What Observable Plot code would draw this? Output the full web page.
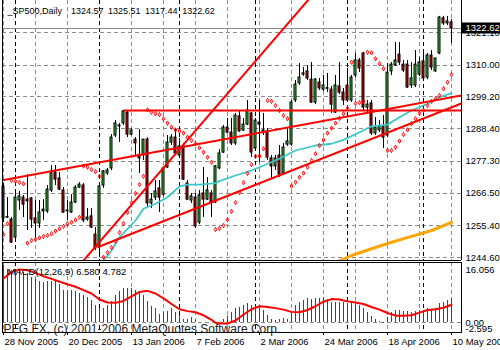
<!DOCTYPE html>
<html><head><meta charset="utf-8">
<script src="https://cdn.jsdelivr.net/npm/d3@7"></script>
<script src="https://cdn.jsdelivr.net/npm/@observablehq/plot@0.6"></script>
<style>
body{margin:0;background:#fff;}
#chart{position:relative;width:500px;height:350px;overflow:hidden;background:#fff;}
#chart svg{position:absolute;left:0;overflow:visible;}
</style></head><body><div id="chart"></div>
<script>
// ---------- data ----------
const symbolLabel = "_SP500,Daily";
const lastOHLC = [1324.57, 1325.51, 1317.44, 1322.62];
const opens = [1268.8,1258.4,1257.5,1251.4,1264.0,1265.0,1264.3,1264.7,1257.9,1256.2,
1260.3,1260.3,1267.4,1273.5,1271.5,1267.4,1260.3,1259.9,1263.3,1268.4,
1269.1,1257.5,1258.6,1252.4,1248.0,1269.1,1273.2,1274.9,1286.1,1289.2,
1290.2,1293.9,1286.4,1284.7,1279.3,1279.3,1284.7,1263.0,1265.0,1268.1,
1266.0,1275.2,1283.7,1285.4,1279.3,1282.4,1269.8,1264.0,1265.0,1256.5,
1266.4,1264.3,1266.4,1263.3,1274.9,1280.3,1288.8,1287.1,1283.4,1292.6,
1287.8,1289.8,1293.6,1281.7,1290.5,1287.5,1287.5,1278.3,1275.6,1279.3,
1273.2,1283.0,1283.0,1298.0,1303.8,1306.8,1307.9,1305.1,1297.3,1304.1,
1301.7,1302.2,1301.7,1293.9,1302.8,1300.7,1303.1,1298.0,1306.5,1311.6,
1314.0,1295.6,1297.0,1286.8,1287.8,1289.2,1286.1,1307.9,1309.9,1313.6,
1310.2,1310.2,1303.1,1303.1,1306.8,1311.3,1305.8,1313.3,1307.9,1314.0,
1325.9,1324.2,1324.57];
const highs = [1269.8,1265.0,1258.2,1267.1,1267.1,1265.7,1272.8,1265.0,1264.0,1264.0,
1264.3,1269.1,1275.9,1275.9,1273.5,1268.4,1264.0,1266.0,1269.1,1270.1,
1269.8,1261.3,1261.3,1254.8,1269.1,1274.2,1274.9,1286.4,1291.2,1290.2,
1294.6,1294.6,1288.5,1285.4,1288.1,1284.7,1285.4,1266.4,1270.8,1270.8,
1275.2,1286.1,1286.4,1288.5,1285.1,1283.4,1270.8,1266.4,1266.4,1267.4,
1275.2,1271.8,1267.4,1275.9,1281.3,1289.5,1291.9,1291.9,1293.6,1294.6,
1291.9,1298.0,1293.9,1291.9,1298.0,1293.6,1288.5,1279.3,1279.3,1282.7,
1283.4,1288.8,1298.0,1304.8,1310.6,1309.2,1309.9,1310.9,1305.5,1305.5,
1306.5,1307.2,1302.8,1306.5,1310.9,1302.1,1308.9,1306.5,1314.0,1312.3,
1314.3,1298.0,1298.0,1292.2,1291.2,1292.9,1310.6,1310.9,1317.7,1317.7,
1311.6,1311.6,1310.9,1315.0,1312.6,1315.0,1314.0,1315.0,1311.6,1326.6,
1326.6,1326.6,1325.51];
const lows = [1256.5,1257.9,1249.4,1251.1,1260.6,1258.2,1253.8,1254.5,1251.1,1254.5,
1257.2,1259.6,1266.7,1269.1,1267.4,1259.6,1257.2,1259.6,1263.0,1268.1,
1256.5,1256.9,1254.5,1247.0,1244.6,1268.1,1272.5,1274.2,1285.4,1283.7,
1289.5,1285.4,1286.1,1279.3,1273.2,1277.6,1261.6,1261.3,1264.0,1259.9,
1265.4,1274.9,1282.7,1279.3,1278.6,1270.8,1264.0,1263.0,1254.5,1255.8,
1258.2,1264.0,1258.2,1263.0,1274.5,1280.0,1286.8,1282.7,1282.7,1287.1,
1287.5,1289.5,1278.6,1281.0,1276.9,1286.1,1277.6,1271.5,1274.2,1271.8,
1272.5,1282.4,1282.4,1297.3,1303.1,1306.2,1304.8,1297.0,1296.6,1301.4,
1301.1,1300.7,1293.6,1293.6,1300.0,1296.3,1297.3,1297.3,1305.8,1307.5,
1294.6,1293.9,1286.1,1286.1,1287.1,1281.7,1285.4,1306.5,1309.6,1309.9,
1307.5,1302.1,1302.1,1302.4,1306.2,1304.8,1305.1,1308.2,1307.5,1313.6,
1323.5,1323.5,1317.44];
const closes = [1257.9,1258.2,1249.7,1265.0,1265.4,1262.6,1263.7,1257.5,1256.2,1259.9,
1260.9,1267.7,1273.2,1271.1,1267.7,1259.9,1260.6,1263.3,1268.4,1269.4,
1257.2,1258.2,1254.8,1247.7,1268.8,1273.9,1274.2,1285.4,1290.2,1289.5,
1294.3,1286.4,1287.8,1283.4,1278.3,1284.7,1263.0,1264.3,1267.1,1265.0,
1274.9,1283.7,1285.4,1280.0,1282.4,1271.1,1264.3,1265.4,1255.2,1265.7,
1264.3,1267.4,1263.3,1275.6,1280.0,1288.8,1287.1,1283.4,1292.9,1287.5,
1289.8,1294.6,1280.3,1291.2,1289.8,1287.8,1278.6,1275.6,1278.3,1272.8,
1282.0,1284.1,1297.3,1303.4,1305.8,1307.2,1305.5,1297.3,1305.1,1302.1,
1303.1,1302.0,1296.6,1303.1,1300.7,1298.0,1298.0,1305.8,1311.6,1308.9,
1295.6,1296.6,1286.8,1288.8,1289.2,1285.4,1307.5,1310.2,1311.6,1310.9,
1308.2,1302.4,1305.5,1310.2,1310.9,1305.5,1313.3,1309.2,1312.3,1326.2,
1324.2,1324.9,1322.62];
// Parabolic SAR, one value per bar
const sarValues = [1252.4,1256.1,1270.8,1270.5,1270.1,1269.7,1249.5,1250.4,1250.8,1251.3,
1251.8,1252.1,1252.7,1253.6,1254.4,1255.2,1256.1,1256.6,1257.4,1258.3,
1275.7,1275.3,1274.5,1273.8,1272.2,1244.7,1246.3,1248.0,1250.1,1253.1,
1256.2,1259.9,1263.3,1266.4,1269.4,1272.2,1294.8,1294.0,1293.5,1293.2,
1291.8,1290.3,1288.9,1288.0,1287.6,1286.9,1285.5,1284.4,1283.3,1281.9,
1280.4,1278.7,1277.0,1254.1,1254.5,1255.5,1257.5,1260.3,1263.3,1266.7,
1270.1,1273.2,1276.2,1279.0,1279.1,1281.6,1298.0,1297.7,1296.3,1294.6,
1292.9,1291.8,1268.9,1270.2,1271.9,1273.3,1275.3,1277.6,1279.9,1282.7,
1284.6,1286.9,1288.6,1290.3,1291.9,1293.5,1295.3,1311.0,1297.0,1297.3,
1297.7,1314.4,1314.2,1312.2,1310.5,1308.8,1281.0,1281.0,1282.1,1284.2,
1286.4,1288.0,1290.1,1291.8,1293.6,1294.6,1296.3,1297.7,1298.7,1299.7,
1302.0,1304.2,1306.8];
// moving averages (read at sample bars)
const fastMaIdx  = [24,25,27,29,33,35,38,41,44,46,49,53,54,58,62,65,69,73,78,82,85,89,92,96,99,102,106,109,112];
const fastMaVals = [1241.5,1243.6,1247.0,1251.5,1257.2,1261.2,1262.9,1265.1,1268.8,1269.4,1269.4,1269.9,1270.6,1272.5,1274.2,1275.9,1278.2,1281.0,1282.7,1283.3,1284.6,1287.2,1289.2,1289.8,1292.3,1294.6,1296.9,1299.1,1300.5];
const slowMaIdx  = [83,84,87,92,97,102,107,112];
const slowMaVals = [1243.0,1243.5,1245.3,1247.6,1249.8,1251.8,1253.8,1256.6];
// trend lines (bar index, price)
const trendX1 = [30, -0.25, 23.5, 19.5];
const trendY1 = [1294.6, 1270.9, 1248.1, 1242.8];
const trendX2 = [114.5, 114.5, 114.5, 76.5];
const trendY2 = [1294.6, 1299.7, 1297.0, 1332.7];
// axes
const priceTicks = [1321.10,1310.00,1299.20,1288.40,1277.30,1266.50,1255.40,1244.60];
const dateTickIdx = [0,16,32,48,64,80,96,112];
const dateTickLabels = ["28 Nov 2005","20 Dec 2005","13 Jan 2006","7 Feb 2006","2 Mar 2006","24 Mar 2006","18 Apr 2006","10 May 2006"];
const monthStartIdx = [3,24,44,63,86,105];
// MACD(12,26,9)
const macdLabel = "MACD(12,26,9)";
const macdLast = [6.580, 4.782];
const macdRange = [-2.595, 16.056];
const macdMain = [15.3,14.2,13.8,13.9,13.8,13.3,12.8,12.1,11.5,11.0,
10.8,11.0,11.0,11.2,10.1,8.7,8.5,8.5,8.3,7.8,
7.2,6.6,6.0,4.6,3.9,3.9,4.6,5.7,7.2,8.3,
9.2,9.2,9.0,8.7,8.3,7.2,5.7,4.2,3.7,2.3,
2.8,3.0,3.7,2.8,1.9,0.96,0.96,1.4,0.5,0.2,
0.05,0.2,0.2,0.05,0.2,1.0,1.7,2.79,3.70,4.16,
4.62,5.07,4.62,4.34,3.89,3.25,1.87,0.96,0.69,0.78,
1.14,0.96,2.79,4.62,5.53,5.99,6.45,6.26,6.45,6.45,
6.63,6.26,5.53,5.35,5.53,5.53,5.07,5.07,5.07,4.62,
3.70,2.79,1.69,0.96,0.23,-0.14,1.42,2.79,3.25,3.25,
2.97,2.97,2.79,2.97,3.25,3.25,3.70,3.52,3.70,5.07,
5.53,5.99,6.58];
const signalIdx  = [0,2,4,6,8,10,12,15,18,20,22,24,26,28,30,32,34,36,38,40,42,44,46,48,50,52,53,54,56,58,60,62,64,66,68,70,72,74,76,78,80,82,84,86,88,90,92,94,96,98,100,102,104,106,108,110,112];
const signalVals = [11.8,13.5,14.2,14.0,13.3,12.4,11.7,10.6,9.6,8.7,7.8,6.2,5.4,5.3,5.8,7.0,8.2,8.5,7.8,6.5,5.0,3.6,3.1,2.8,2.0,0.8,0.0,-0.2,-0.2,0.6,2.2,3.6,4.4,4.2,3.9,3.5,2.9,2.8,3.4,4.4,5.6,6.3,6.2,5.7,5.4,5.0,4.2,3.5,2.6,1.9,1.9,2.0,2.7,3.4,3.6,4.0,4.782];
const copyright = "PFG FX, (c) 2001-2006 MetaQuotes Software Corp.";

// ---------- tables ----------
const bars = opens.map((o, i) => ({i, o, h: highs[i], l: lows[i], c: closes[i]}));
const sar = sarValues.map((v, i) => ({i, v}));
const fastMA = fastMaIdx.map((i, k) => ({i, v: fastMaVals[k]}));
const slowMA = slowMaIdx.map((i, k) => ({i, v: slowMaVals[k]}));
const trends = trendX1.map((x1, k) => ({x1, y1: trendY1[k], x2: trendX2[k], y2: trendY2[k]}));
const macdRows = macdMain.map((v, i) => ({i, v}));
const signalRows = signalIdx.map((i, k) => ({i, v: signalVals[k]}));
const gridIdx = d3.range(0, opens.length, 8);
const dateTicks = dateTickIdx.map((i, k) => ({i, label: dateTickLabels[k]}));

const xDomain = [-0.25, 114.5];
const FONT = "'Liberation Sans', Arial, sans-serif";
const GRID = "#8c8c8c", DASH = "4,3";
const BULL = "#2ec82e", BEAR = "#dd0000";
const CRISP = "crispEdges";

const main = Plot.plot({
  width: 500, height: 261,
  marginLeft: 2, marginRight: 39, marginTop: 0, marginBottom: 1,
  x: {domain: xDomain, axis: null},
  y: {domain: [1243.6, 1332], axis: null},
  style: {fontFamily: FONT, fontSize: "9.5px", background: "transparent", color: "#000", overflow: "visible"},
  marks: [
    Plot.ruleY(priceTicks, {stroke: GRID, strokeDasharray: DASH, shapeRendering: CRISP}),
    Plot.ruleX(gridIdx, {stroke: GRID, strokeDasharray: DASH, shapeRendering: CRISP}),
    Plot.ruleX(monthStartIdx, {stroke: "#000", strokeDasharray: DASH, shapeRendering: CRISP}),
    Plot.ruleY([lastOHLC[3]], {stroke: "#8a8a8a", shapeRendering: CRISP}),
    Plot.ruleX(bars, {x: "i", y1: "l", y2: "h", stroke: "#000"}),
    Plot.rect(bars, {x1: d => d.i - 0.25, x2: d => d.i + 0.25, y1: "o", y2: "c",
      fill: d => d.c >= d.o ? BULL : BEAR, stroke: "#000"}),
    Plot.line(slowMA, {x: "i", y: "v", stroke: "#ffa500", strokeWidth: 3, clip: true}),
    Plot.line(fastMA, {x: "i", y: "v", stroke: "#3cc8c8", strokeWidth: 1.8, clip: true}),
    Plot.dot(sar, {x: "i", y: "v", symbol: "diamond", r: 1.3, stroke: "#ff0000", fill: "none", strokeWidth: 1}),
    Plot.link(trends, {x1: "x1", y1: "y1", x2: "x2", y2: "y2", stroke: "#ff0000", strokeWidth: 2, clip: true}),
    // frame: left, right, bottom
    Plot.ruleX(xDomain, {stroke: "#000", shapeRendering: CRISP}),
    Plot.ruleY([1243.6], {stroke: "#000", shapeRendering: CRISP}),
    // price labels
    Plot.text(priceTicks, {y: d => d, text: d => d.toFixed(2), frameAnchor: "right", textAnchor: "start", dx: 4, fontSize: 9.5}),
    Plot.ruleY([lastOHLC[3]], {stroke: "#000", strokeWidth: 11, insetLeft: 460, insetRight: -39}),
    Plot.text([lastOHLC[3]], {y: d => d, text: d => d.toFixed(2), frameAnchor: "right", textAnchor: "start", dx: 4, fill: "#fff", fontSize: 9.5}),
    // header
    Plot.text([symbolLabel + "\u2002\u2002" + lastOHLC.map(v => v.toFixed(2)).join("\u2002")],
      {frameAnchor: "top-left", dx: 5, dy: 7, lineAnchor: "top", fontSize: 9}),
  ]
});
main.style.top = "0px";

const macd = Plot.plot({
  width: 500, height: 89,
  marginLeft: 2, marginRight: 39, marginTop: 1, marginBottom: 18,
  x: {domain: xDomain, axis: null},
  y: {domain: macdRange, axis: null},
  style: {fontFamily: FONT, fontSize: "9.5px", background: "transparent", color: "#000", overflow: "visible"},
  marks: [
    Plot.ruleY([0], {stroke: GRID, strokeDasharray: DASH, shapeRendering: CRISP}),
    Plot.ruleX(gridIdx, {stroke: GRID, strokeDasharray: DASH, shapeRendering: CRISP}),
    Plot.ruleX(monthStartIdx, {stroke: "#000", strokeDasharray: DASH, shapeRendering: CRISP}),
    Plot.ruleX(macdRows, {x: "i", y1: 0, y2: "v", stroke: "#0c6b0c", shapeRendering: CRISP}),
    Plot.line(signalRows, {x: "i", y: "v", stroke: "#ff0000", strokeWidth: 2}),
    Plot.frame({stroke: "#000", shapeRendering: CRISP}),
    Plot.text([macdLabel + " " + macdLast.map(v => v.toFixed(3)).join(" ")],
      {frameAnchor: "top-left", dx: 5, dy: 6, lineAnchor: "top", fontSize: 9.5}),
    Plot.text([copyright], {frameAnchor: "bottom-left", dx: 1, dy: 0, lineAnchor: "bottom", fontSize: 12, fill: "#222"}),
    Plot.text([macdRange[1]], {text: d => d.toFixed(3), frameAnchor: "top-right", textAnchor: "start", lineAnchor: "top", dx: 4, dy: 4, fontSize: 9.5}),
    Plot.text([0], {y: d => d, text: d => d.toFixed(2), frameAnchor: "right", textAnchor: "start", dx: 4, fontSize: 9.5}),
    Plot.text([macdRange[0]], {text: d => d.toFixed(3), frameAnchor: "bottom-right", textAnchor: "start", lineAnchor: "bottom", dx: 4, dy: -1, fontSize: 9.5}),
    // date axis
    Plot.ruleX(dateTicks, {x: "i", y1: macdRange[0], y2: macdRange[0], insetBottom: -3, stroke: "#000", shapeRendering: CRISP}),
    Plot.text(dateTicks, {x: "i", text: "label", frameAnchor: "bottom", textAnchor: "start", lineAnchor: "top", dx: 1, dy: 6, fontSize: 9.5}),
  ]
});
macd.style.top = "261px";

const host = document.getElementById("chart");
host.appendChild(main);
host.appendChild(macd);
</script></body></html>
